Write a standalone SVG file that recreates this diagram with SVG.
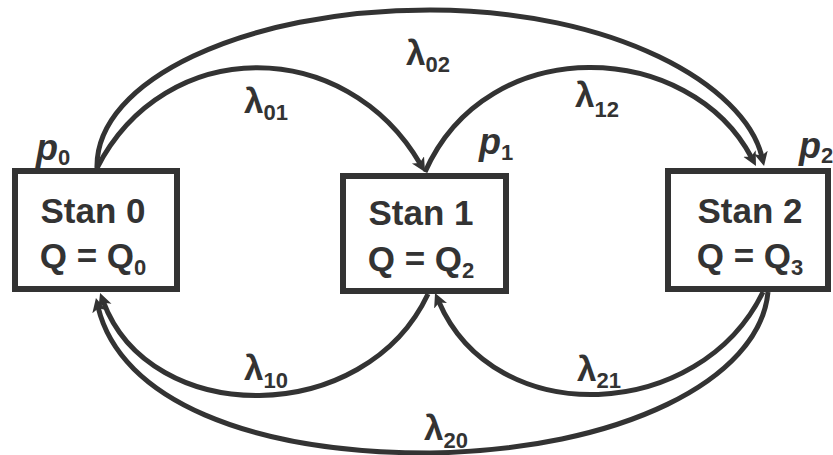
<svg xmlns="http://www.w3.org/2000/svg" width="833" height="455" viewBox="0 0 833 455">
  <defs>
    <marker id="arr" markerUnits="userSpaceOnUse" markerWidth="16" markerHeight="16" refX="5" refY="7" orient="auto">
      <path d="M0,0 L14,7 L0,14 L3.5,7 z" fill="#333"/>
    </marker>
    <style>
      .box { fill: #fff; stroke: #333; stroke-width: 6; }
      .edge { fill: none; stroke: #333; stroke-width: 5; marker-end: url(#arr); }
      text { font-family: "Liberation Sans", Arial, Helvetica, sans-serif; font-weight: bold; fill: #333; }
      .name { font-size: 35px; text-anchor: middle; }
      .lam { font-size: 35px; }
      .sub { font-size: 22px; font-style: normal; }
      .p { font-size: 36px; font-style: italic; }
    </style>
  </defs>
  <rect width="833" height="455" fill="#fff"/>

  <g id="connectors">
    <path id="e01" class="edge" d="M97,168 C165,35 345,35 420.5,164.2"/>
    <path id="e02" class="edge" d="M97,168 C95,80 245,10 430,10 C614,10 745,85 762,157.2"/>
    <path id="e12" class="edge" d="M425,172 C488,30 690,40 751.8,158"/>
    <path id="e10" class="edge" d="M428,294 C365,428 150,428 103.2,301.4"/>
    <path id="e20" class="edge" d="M768,292 C760,380 620,450 430,453 C250,453 120,400 98,306.8"/>
    <path id="e21" class="edge" d="M763,292 C700,422 495,432 438.6,301.2"/>
  </g>

  <g id="node-0">
    <rect class="box" x="15" y="171" width="162" height="118"/>
    <text class="name" x="93" y="223">Stan 0</text>
    <text class="name" x="93" y="268">Q = Q<tspan class="sub" dy="7">0</tspan></text>
  </g>
  <g id="node-1">
    <rect class="box" x="343" y="176" width="163" height="115"/>
    <text class="name" x="421" y="225">Stan 1</text>
    <text class="name" x="421" y="271">Q = Q<tspan class="sub" dy="7">2</tspan></text>
  </g>
  <g id="node-2">
    <rect class="box" x="668" y="171" width="160" height="118"/>
    <text class="name" x="750" y="223">Stan 2</text>
    <text class="name" x="750" y="268">Q = Q<tspan class="sub" dy="7">3</tspan></text>
  </g>

  <g id="labels">
    <text class="lam" x="244" y="113">λ<tspan class="sub" dy="7">01</tspan></text>
    <text class="lam" x="406" y="65">λ<tspan class="sub" dy="7">02</tspan></text>
    <text class="lam" x="575" y="107">λ<tspan class="sub" dy="10">12</tspan></text>
    <text class="lam" x="244" y="380">λ<tspan class="sub" dy="8">10</tspan></text>
    <text class="lam" x="577" y="381">λ<tspan class="sub" dy="7">21</tspan></text>
    <text class="lam" x="424" y="440">λ<tspan class="sub" dy="8">20</tspan></text>
    <text class="p" x="36" y="160">p<tspan class="sub" dy="5">0</tspan></text>
    <text class="p" x="479" y="154">p<tspan class="sub" dy="6">1</tspan></text>
    <text class="p" x="799" y="158">p<tspan class="sub" dy="5">2</tspan></text>
  </g>
</svg>
